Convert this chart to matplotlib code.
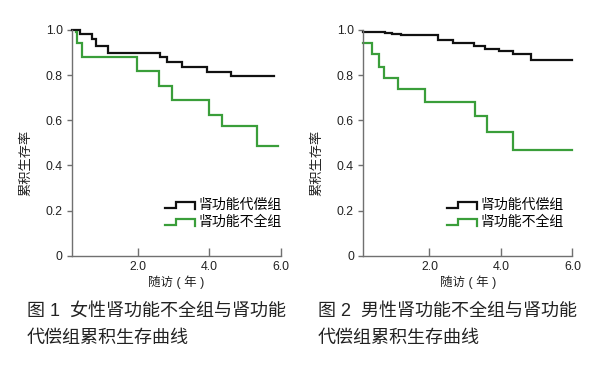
import matplotlib
matplotlib.use('Agg')
import matplotlib.pyplot as plt
from matplotlib.legend_handler import HandlerBase
from matplotlib.lines import Line2D

plt.rcParams['font.family'] = ['Liberation Sans', 'Noto Sans CJK SC']

# female (figure 1)
t_f_comp = [0.16, 0.38, 0.71, 0.83, 1.18, 2.63, 2.81, 3.23, 3.93, 4.62, 5.82]
s_f_comp = [1.0, 0.98, 0.96, 0.93, 0.90, 0.88, 0.86, 0.835, 0.815, 0.795, 0.795]
t_f_insuf = [0.28, 0.29, 0.43, 1.97, 2.59, 2.95, 4.0, 4.36, 5.33, 5.92]
s_f_insuf = [0.99, 0.94, 0.88, 0.82, 0.75, 0.69, 0.625, 0.575, 0.485, 0.485]

# male (figure 2)
t_m_comp = [0.14, 0.75, 0.95, 1.2, 2.25, 2.65, 3.25, 3.55, 3.95, 4.35, 4.85, 6.0]
s_m_comp = [0.99, 0.987, 0.982, 0.978, 0.955, 0.94, 0.927, 0.915, 0.905, 0.893, 0.868, 0.868]
t_m_insuf = [0.15, 0.39, 0.59, 0.72, 1.13, 1.88, 3.28, 3.6, 4.35, 6.0]
s_m_insuf = [0.943, 0.894, 0.837, 0.787, 0.737, 0.68, 0.618, 0.55, 0.468, 0.468]

labels = ['肾功能代偿组', '肾功能不全组']
y_ticks = [0, 0.2, 0.4, 0.6, 0.8, 1.0]
y_ticklabels = ['0', '0.2', '0.4', '0.6', '0.8', '1.0']
x_ticks = [2, 4, 6]
x_ticklabels = ['2.0', '4.0', '6.0']
captions = [('图 1  女性肾功能不全组与肾功能', '代偿组累积生存曲线'),
            ('图 2  男性肾功能不全组与肾功能', '代偿组累积生存曲线')]

BLACK = '#111111'
GREEN = '#3a9e3a'
AXIS = '#707070'


class StepHandler(HandlerBase):
    # legend key drawn as a little step, like in the original figure
    def create_artists(self, legend, orig_handle, xdescent, ydescent,
                       width, height, fontsize, trans):
        x0, y0 = -xdescent, -ydescent
        xm = x0 + 0.38 * width
        xs = [x0, xm, xm, x0 + width, x0 + width]
        ys = [y0 + 0.15 * height, y0 + 0.15 * height, y0 + 0.75 * height,
              y0 + 0.75 * height, y0 + 0.05 * height]
        line = Line2D(xs, ys, color=orig_handle.get_color(),
                      lw=orig_handle.get_linewidth(), transform=trans,
                      solid_joinstyle='miter')
        return [line]


def draw_panel(ax, t_comp, s_comp, t_insuf, s_insuf, xmin, leg_x):
    h1, = ax.step(t_comp, s_comp, where='post', color=BLACK, lw=1.6,
                  clip_on=False, solid_joinstyle='miter')
    h2, = ax.step(t_insuf, s_insuf, where='post', color=GREEN, lw=1.6,
                  clip_on=False, solid_joinstyle='miter')
    ax.set_xlim(xmin, 6.0)
    ax.set_ylim(0, 1.0)
    for s in ['top', 'right']:
        ax.spines[s].set_visible(False)
    for s in ['left', 'bottom']:
        ax.spines[s].set_color(AXIS)
        ax.spines[s].set_linewidth(1.0)
    ax.set_yticks(y_ticks)
    ax.set_yticklabels(y_ticklabels)
    ax.set_xticks(x_ticks)
    ax.set_xticklabels(x_ticklabels)
    ax.tick_params(axis='y', direction='out', length=3.5, width=1.0,
                   color=AXIS, pad=3, labelsize=8.8, labelcolor='#222222')
    ax.tick_params(axis='x', direction='in', length=6, width=1.0,
                   color=AXIS, pad=4, labelsize=8.8, labelcolor='#222222')
    ax.set_ylabel('累积生存率', fontsize=9.5, color='#222222')
    ax.yaxis.set_label_coords(-0.187, 0.41)
    ax.set_xlabel('随访 ( 年 )', fontsize=9, color='#222222')
    ax.xaxis.label.set_va('center')
    ax.xaxis.set_label_coords(0.5, -0.115)
    ax.legend([h1, h2], labels, handler_map={Line2D: StepHandler()},
              loc='center left', bbox_to_anchor=(leg_x, 0.187),
              frameon=False, fontsize=10, borderpad=0, borderaxespad=0,
              handlelength=2.15, handletextpad=0.3, labelspacing=0.2)


fig = plt.figure(figsize=(6.09, 3.65), dpi=100)
ax1 = fig.add_axes([0.118, 0.299, 0.343, 0.619])
ax2 = fig.add_axes([0.596, 0.299, 0.344, 0.619])

draw_panel(ax1, t_f_comp, s_f_comp, t_f_insuf, s_f_insuf, 0.16, 0.445)
draw_panel(ax2, t_m_comp, s_m_comp, t_m_insuf, s_m_insuf, 0.14, 0.40)

for x, (line1, line2) in zip([0.044, 0.522], captions):
    fig.text(x, 0.148, line1, fontsize=13, va='center', ha='left',
             color='#222222')
    fig.text(x, 0.074, line2, fontsize=13, va='center', ha='left',
             color='#222222')

fig.savefig('out.png', dpi=100)
